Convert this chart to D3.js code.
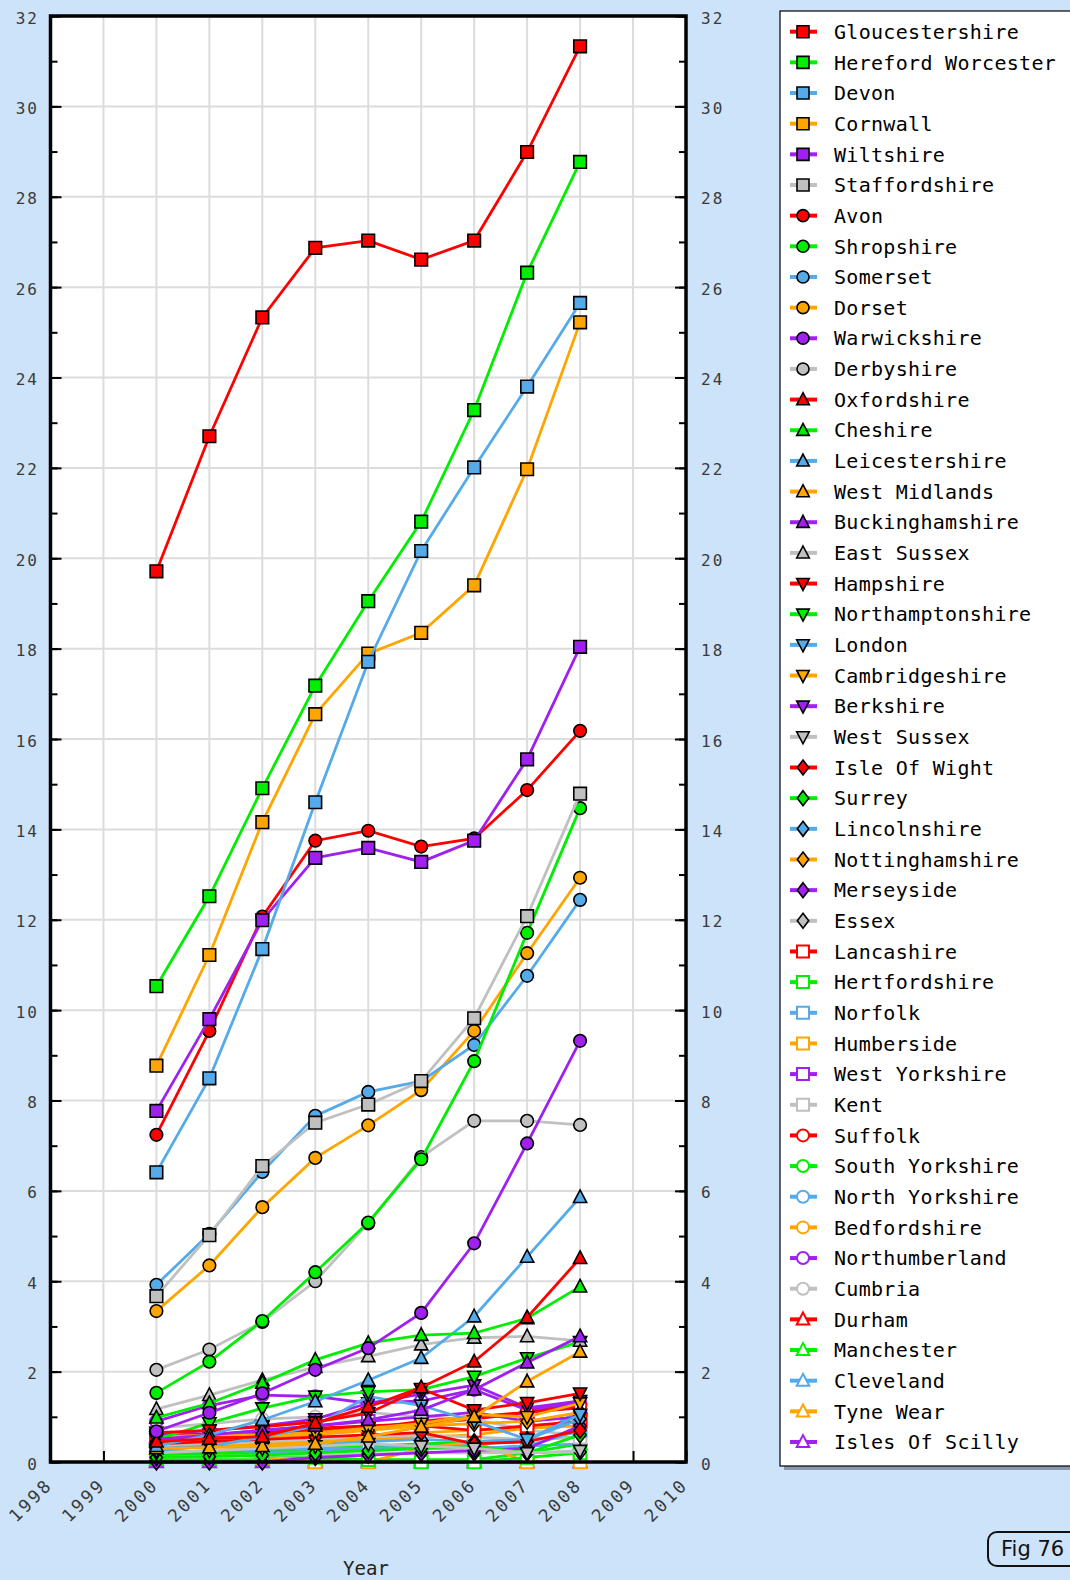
<!DOCTYPE html>
<html>
<head>
<meta charset="utf-8">
<script src="https://cdn.jsdelivr.net/npm/d3@7/dist/d3.min.js"></script>
<style>
  html, body { margin: 0; padding: 0; background: #cde3f9; }
  svg { display: block; }
</style>
</head>
<body>
<svg id="chart" width="1070" height="1580"></svg>
<script>
// ---------- DATA ----------
const years = [2000, 2001, 2002, 2003, 2004, 2005, 2006, 2007, 2008];
const axisYears = [1998, 1999, 2000, 2001, 2002, 2003, 2004, 2005, 2006, 2007, 2008, 2009, 2010];
const yTicks = [0, 2, 4, 6, 8, 10, 12, 14, 16, 18, 20, 22, 24, 26, 28, 30, 32];

const countyNames = [
  "Gloucestershire", "Hereford Worcester", "Devon", "Cornwall", "Wiltshire", "Staffordshire",
  "Avon", "Shropshire", "Somerset", "Dorset", "Warwickshire", "Derbyshire",
  "Oxfordshire", "Cheshire", "Leicestershire", "West Midlands", "Buckinghamshire", "East Sussex",
  "Hampshire", "Northamptonshire", "London", "Cambridgeshire", "Berkshire", "West Sussex",
  "Isle Of Wight", "Surrey", "Lincolnshire", "Nottinghamshire", "Merseyside", "Essex",
  "Lancashire", "Hertfordshire", "Norfolk", "Humberside", "West Yorkshire", "Kent",
  "Suffolk", "South Yorkshire", "North Yorkshire", "Bedfordshire", "Northumberland", "Cumbria",
  "Durham", "Manchester", "Cleveland", "Tyne Wear", "Isles Of Scilly"
];

const gloucestershire   = [19.71, 22.70, 25.33, 26.87, 27.03, 26.61, 27.03, 28.99, 31.33];
const herefordWorcester = [10.53, 12.52, 14.91, 17.18, 19.05, 20.81, 23.28, 26.32, 28.77];
const devon             = [6.41, 8.49, 11.35, 14.60, 17.71, 20.16, 22.01, 23.80, 25.65];
const cornwall          = [8.77, 11.22, 14.16, 16.55, 17.89, 18.35, 19.40, 21.97, 25.22];
const wiltshire         = [7.77, 9.80, 11.99, 13.37, 13.59, 13.28, 13.75, 15.55, 18.04];
const staffordshire     = [3.67, 5.02, 6.55, 7.51, 7.91, 8.43, 9.82, 12.08, 14.79];
const avon              = [7.24, 9.54, 12.07, 13.75, 13.97, 13.62, 13.80, 14.87, 16.18];
const shropshire        = [1.53, 2.22, 3.12, 4.20, 5.30, 6.70, 8.87, 11.71, 14.47];
const somerset          = [3.92, 5.05, 6.42, 7.66, 8.19, 8.43, 9.23, 10.76, 12.44];
const dorset            = [3.34, 4.35, 5.64, 6.73, 7.45, 8.23, 9.54, 11.26, 12.93];
const warwickshire      = [0.68, 1.09, 1.52, 2.04, 2.52, 3.30, 4.84, 7.05, 9.32];
const derbyshire        = [2.04, 2.49, 3.10, 4.00, 5.28, 6.75, 7.55, 7.55, 7.46];
const oxfordshire       = [0.45, 0.51, 0.56, 0.86, 1.22, 1.65, 2.22, 3.20, 4.51];
const cheshire          = [0.98, 1.30, 1.75, 2.26, 2.63, 2.81, 2.85, 3.18, 3.88];
const leicestershire    = [0.35, 0.60, 0.93, 1.34, 1.81, 2.30, 3.22, 4.54, 5.86];
const westMidlands      = [0.30, 0.32, 0.35, 0.40, 0.56, 0.78, 1.00, 1.78, 2.44];
const buckinghamshire   = [0.50, 0.60, 0.70, 0.80, 0.93, 1.15, 1.60, 2.20, 2.78];
const eastSussex        = [1.17, 1.48, 1.81, 2.10, 2.34, 2.60, 2.75, 2.78, 2.68];
const hampshire         = [0.65, 0.70, 0.78, 0.88, 1.08, 1.62, 1.15, 1.31, 1.52];
const northamptonshire  = [0.50, 0.86, 1.19, 1.45, 1.55, 1.60, 1.89, 2.30, 2.66];
const london            = [0.25, 0.35, 0.55, 0.80, 1.45, 1.25, 0.90, 0.50, 1.05];
const cambridgeshire    = [0.55, 0.60, 0.60, 0.65, 0.75, 0.85, 1.05, 1.00, 1.30];
const berkshire         = [0.60, 0.70, 0.80, 0.95, 1.30, 1.50, 1.70, 1.20, 1.35];
const westSussex        = [0.20, 0.25, 0.30, 0.35, 0.40, 0.35, 0.30, 0.20, 0.25];
const isleOfWight       = [0.40, 0.45, 0.50, 0.55, 0.60, 0.65, 0.40, 0.45, 0.70];
const surrey            = [0.10, 0.12, 0.15, 0.20, 0.25, 0.30, 0.35, 0.20, 0.60];
const lincolnshire      = [0.30, 0.35, 0.30, 0.40, 0.45, 0.50, 0.45, 0.50, 0.95];
const nottinghamshire   = [0.45, 0.50, 0.55, 0.60, 0.70, 0.80, 0.85, 0.90, 1.10];
const merseyside        = [0.00, 0.00, 0.00, 0.10, 0.15, 0.20, 0.25, 0.30, 0.80];
const essex             = [0.10, 0.12, 0.15, 0.15, 0.18, 0.20, 0.20, 0.20, 0.22];
const lancashire        = [0.50, 0.55, 0.60, 0.70, 0.75, 0.80, 0.70, 0.80, 0.90];
const hertfordshire     = [0.20, 0.20, 0.15, 0.10, 0.05, 0.00, 0.00, 0.10, 0.20];
const norfolk           = [0.20, 0.25, 0.28, 0.30, 0.30, 0.35, 0.30, 0.35, 0.70];
const humberside        = [0.25, 0.20, 0.10, 0.00, 0.00, 0.30, 0.45, 0.00, 0.00];
const westYorkshire     = [0.55, 0.60, 0.70, 0.80, 0.90, 1.00, 1.10, 0.90, 1.00];
const kent              = [0.35, 0.40, 0.45, 0.50, 0.55, 0.60, 0.55, 0.50, 0.55];
const suffolk           = [0.60, 0.62, 0.65, 0.70, 0.75, 0.90, 1.00, 1.10, 1.25];
const southYorkshire    = [0.15, 0.20, 0.25, 0.30, 0.35, 0.40, 0.45, 0.50, 0.55];
const northYorkshire    = [0.10, 0.15, 0.20, 0.25, 0.25, 0.30, 0.30, 0.35, 0.40];
const bedfordshire      = [0.40, 0.45, 0.50, 0.50, 0.55, 0.65, 0.70, 0.75, 0.80];
const northumberland    = [0.90, 1.25, 1.48, 1.45, 1.30, 1.35, 1.60, 1.15, 1.30];
const cumbria           = [0.75, 0.85, 0.95, 1.00, 1.10, 1.00, 0.95, 0.70, 0.60];
const durham            = [0.55, 0.60, 0.65, 0.75, 0.80, 0.85, 0.95, 1.10, 1.20];
const manchester        = [0.05, 0.05, 0.05, 0.05, 0.05, 0.05, 0.05, 0.20, 0.40];
const cleveland         = [0.15, 0.20, 0.20, 0.25, 0.30, 0.35, 0.40, 0.45, 1.15];
const tyneWear          = [0.30, 0.35, 0.40, 0.45, 0.50, 0.55, 0.60, 0.75, 0.90];
const islesOfScilly     = [0.00, 0.00, 0.00, 0.00, 0.00, 0.00, 0.00, 0.00, 0.00];

const seriesValues = [
  gloucestershire, herefordWorcester, devon, cornwall, wiltshire, staffordshire,
  avon, shropshire, somerset, dorset, warwickshire, derbyshire,
  oxfordshire, cheshire, leicestershire, westMidlands, buckinghamshire, eastSussex,
  hampshire, northamptonshire, london, cambridgeshire, berkshire, westSussex,
  isleOfWight, surrey, lincolnshire, nottinghamshire, merseyside, essex,
  lancashire, hertfordshire, norfolk, humberside, westYorkshire, kent,
  suffolk, southYorkshire, northYorkshire, bedfordshire, northumberland, cumbria,
  durham, manchester, cleveland, tyneWear, islesOfScilly
];

// ---------- STYLE ----------
const palette = ["#ff0000", "#00ee00", "#55aaea", "#ffa500", "#a020f0", "#c0c0c0"];
const shapes = ["square", "circle", "triUp", "triDown", "diamond", "squareOpen", "circleOpen", "triUpOpen"];

const series = countyNames.map((name, i) => ({
  name,
  color: palette[i % 6],
  shape: shapes[Math.floor(i / 6)],
  values: seriesValues[i].map((v, j) => ({ year: years[j], value: v }))
}));

// ---------- LAYOUT ----------
const svg = d3.select("#chart");
const W = 1070, H = 1580;
const plot = { left: 50.5, right: 686, top: 16, bottom: 1462 };

const x = d3.scaleLinear().domain([1998, 2010]).range([plot.left, plot.right]);
const y = d3.scaleLinear().domain([0, 32]).range([plot.bottom, plot.top]);

svg.append("rect").attr("width", W).attr("height", H).attr("fill", "#cde3f9");

// plot background
svg.append("rect")
  .attr("x", plot.left).attr("y", y(32))
  .attr("width", plot.right - plot.left).attr("height", plot.bottom - y(32))
  .attr("fill", "#ffffff");

// grid
const grid = svg.append("g").attr("stroke", "#dcdcdc").attr("stroke-width", 2);
grid.selectAll("line.v").data(axisYears.slice(1, -1)).join("line")
  .attr("x1", d => x(d)).attr("x2", d => x(d))
  .attr("y1", y(32)).attr("y2", plot.bottom);
grid.selectAll("line.h").data(yTicks.slice(1, -1)).join("line")
  .attr("x1", plot.left).attr("x2", plot.right)
  .attr("y1", d => y(d)).attr("y2", d => y(d));

// axes (ticks inward) using d3 axes
const minorTicks = d3.range(0, 33, 1);
const leftAxis = d3.axisRight(y).tickValues(minorTicks).tickSize(7).tickFormat("");
const leftAxisMajor = d3.axisRight(y).tickValues(yTicks).tickSize(11).tickFormat("");
const rightAxis = d3.axisLeft(y).tickValues(minorTicks).tickSize(7).tickFormat("");
const rightAxisMajor = d3.axisLeft(y).tickValues(yTicks).tickSize(11).tickFormat("");
const bottomAxis = d3.axisTop(x).tickValues(axisYears).tickSize(11).tickFormat("");

function styleAxis(g) {
  g.select(".domain").remove();
  g.selectAll(".tick line").attr("stroke", "#000").attr("stroke-width", 2);
}
svg.append("g").attr("transform", `translate(${plot.left},0)`).call(leftAxis).call(styleAxis);
svg.append("g").attr("transform", `translate(${plot.left},0)`).call(leftAxisMajor).call(styleAxis);
svg.append("g").attr("transform", `translate(${plot.right},0)`).call(rightAxis).call(styleAxis);
svg.append("g").attr("transform", `translate(${plot.right},0)`).call(rightAxisMajor).call(styleAxis);
svg.append("g").attr("transform", `translate(0,${plot.bottom})`).call(bottomAxis).call(styleAxis);

// tick labels
const tickFont = "'DejaVu Sans Mono', monospace";
const lbl = svg.append("g").attr("font-family", tickFont).attr("font-size", 16)
  .attr("fill", "#3a3a3a").attr("letter-spacing", 2);
lbl.selectAll("text.l").data(yTicks).join("text")
  .attr("x", 39).attr("y", d => y(d) + 2).attr("dy", "0.35em")
  .attr("text-anchor", "end").text(d => d);
lbl.selectAll("text.r").data(yTicks).join("text")
  .attr("x", 701).attr("y", d => y(d) + 2).attr("dy", "0.35em")
  .attr("text-anchor", "start").text(d => d);
lbl.selectAll("text.x").data(axisYears).join("text")
  .attr("text-anchor", "end")
  .attr("font-size", 17.5).attr("letter-spacing", 2.6)
  .attr("transform", d => `translate(${x(d) + 3},${plot.bottom + 24}) rotate(-45)`)
  .text(d => d);

svg.append("text")
  .attr("x", 366).attr("y", 1575)
  .attr("text-anchor", "middle")
  .attr("font-family", tickFont).attr("font-size", 19).attr("fill", "#222")
  .text("Year");

// ---------- MARKERS ----------
function shapePath(shape, r) {
  switch (shape) {
    case "square": case "squareOpen":
      return `M${-r},${-r}H${r}V${r}H${-r}Z`;
    case "triUp": case "triUpOpen":
      return `M0,${-r * 1.15}L${r * 1.05},${r * 0.85}H${-r * 1.05}Z`;
    case "triDown":
      return `M0,${r * 1.15}L${r * 1.05},${-r * 0.85}H${-r * 1.05}Z`;
    case "diamond":
      return `M0,${-r * 1.25}L${r * 0.95},0L0,${r * 1.25}L${-r * 0.95},0Z`;
    default:
      return null;
  }
}
function drawMarker(g, s, cx, cy, r) {
  const open = s.shape.endsWith("Open");
  const fill = open ? "#ffffff" : s.color;
  const stroke = open ? s.color : "#000000";
  const sw = open ? 2 : 1.6;
  if (s.shape === "circle" || s.shape === "circleOpen") {
    g.append("circle").attr("cx", cx).attr("cy", cy).attr("r", r)
      .attr("fill", fill).attr("stroke", stroke).attr("stroke-width", sw);
  } else {
    g.append("path").attr("d", shapePath(s.shape, r))
      .attr("transform", `translate(${cx},${cy})`)
      .attr("fill", fill).attr("stroke", stroke).attr("stroke-width", sw);
  }
}

// ---------- SERIES (reverse order so first series is on top) ----------
const line = d3.line().x(d => x(d.year)).y(d => y(d.value));
const seriesG = svg.append("g");
series.slice().reverse().forEach(s => {
  const g = seriesG.append("g");
  g.append("path").datum(s.values).attr("d", line)
    .attr("fill", "none").attr("stroke", s.color).attr("stroke-width", 2.8);
  s.values.forEach(d => drawMarker(g, s, x(d.year), y(d.value), 6.3));
});

// frame
svg.append("rect")
  .attr("x", plot.left).attr("y", y(32))
  .attr("width", plot.right - plot.left).attr("height", plot.bottom - y(32))
  .attr("fill", "none").attr("stroke", "#000").attr("stroke-width", 3.5);

// ---------- LEGEND ----------
const legX = 780, legY = 11, legBottom = 1466;
svg.append("rect").attr("x", legX + 4).attr("y", legY + 4)
  .attr("width", W - legX + 10).attr("height", legBottom - legY)
  .attr("fill", "#8a9aaa");
svg.append("rect").attr("x", legX).attr("y", legY)
  .attr("width", W - legX + 10).attr("height", legBottom - legY)
  .attr("fill", "#ffffff").attr("stroke", "#000").attr("stroke-width", 1.2);

const rowY = d3.scaleLinear().domain([0, countyNames.length - 1]).range([31.7, 1442]);
const leg = svg.append("g");
series.forEach((s, i) => {
  const cy = rowY(i);
  const g = leg.append("g");
  g.append("line").attr("x1", 790).attr("x2", 817).attr("y1", cy).attr("y2", cy)
    .attr("stroke", s.color).attr("stroke-width", 4);
  drawMarker(g, s, 803, cy, 6);
  g.append("text").attr("x", 834).attr("y", cy).attr("dy", "0.36em")
    .attr("font-family", tickFont).attr("font-size", 20).attr("letter-spacing", 0.3)
    .attr("fill", "#000").text(s.name);
});

// ---------- FIG LABEL ----------
svg.append("rect").attr("x", 988).attr("y", 1532).attr("width", 110).attr("height", 34)
  .attr("rx", 9).attr("ry", 9)
  .attr("fill", "none").attr("stroke", "#111").attr("stroke-width", 2);
svg.append("text").attr("x", 1001).attr("y", 1556)
  .attr("font-family", "'DejaVu Sans', sans-serif").attr("font-size", 21).attr("fill", "#111")
  .text("Fig 76");
</script>
</body>
</html>
